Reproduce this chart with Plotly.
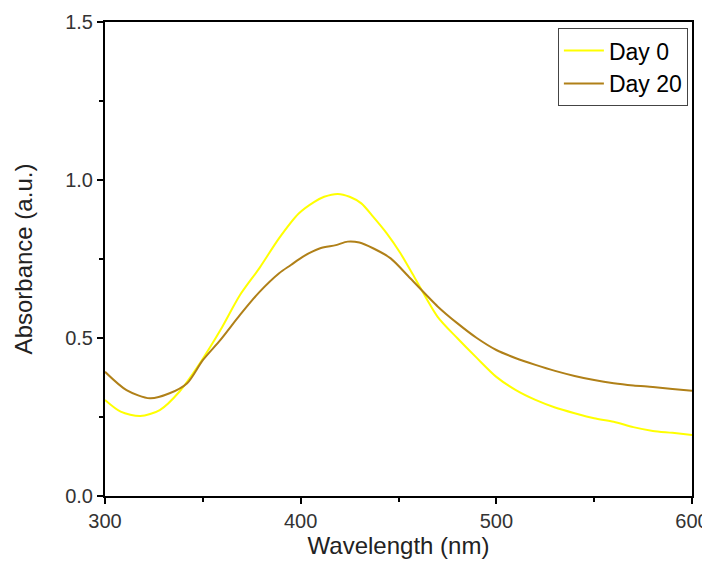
import plotly.graph_objects as go

# Day 0 spectrum
wl_day0 = [300, 308, 318, 328, 338, 349, 359, 369, 379, 389, 399, 407, 412, 419, 425, 431,
           437, 444, 451, 458, 470, 480, 490, 500, 510, 520, 530, 540, 550, 560, 570, 580, 590, 600]
day0 = [0.304, 0.267, 0.253, 0.272, 0.330, 0.425, 0.525, 0.636, 0.722, 0.816, 0.894, 0.931, 0.947, 0.956, 0.947, 0.926,
        0.884, 0.831, 0.768, 0.694, 0.567, 0.500, 0.437, 0.377, 0.335, 0.304, 0.280, 0.262, 0.246, 0.235, 0.218, 0.206, 0.200, 0.193]

# Day 20 spectrum
wl_day20 = [300, 311, 323, 333, 342, 350, 359, 369, 379, 389, 395, 401, 410, 418, 424, 430,
            437, 446, 456, 470, 480, 490, 500, 510, 520, 530, 540, 550, 560, 570, 580, 590, 600]
day20 = [0.393, 0.335, 0.309, 0.325, 0.357, 0.430, 0.494, 0.573, 0.646, 0.705, 0.731, 0.757, 0.784, 0.794, 0.805, 0.802,
         0.784, 0.752, 0.689, 0.600, 0.547, 0.500, 0.462, 0.436, 0.415, 0.396, 0.380, 0.367, 0.357, 0.350, 0.345, 0.339, 0.333]

font = "Liberation Sans, Arial, sans-serif"

fig = go.Figure()
fig.add_trace(go.Scatter(x=wl_day0, y=day0, mode="lines", name="Day 0",
                         line=dict(color="#FFFF00", width=2, shape="spline", smoothing=0.8)))
fig.add_trace(go.Scatter(x=wl_day20, y=day20, mode="lines", name="Day 20",
                         line=dict(color="#B08018", width=2, shape="spline", smoothing=0.8)))

axis_common = dict(showline=True, linecolor="black", linewidth=2, mirror=True,
                   showgrid=False, zeroline=False, ticks="outside", ticklen=6,
                   tickwidth=2, tickcolor="black", automargin=False,
                   ticklabeloverflow="allow",
                   tickfont=dict(family=font, size=20, color="#333333"))

# the page body adds an 8px margin, so the figure is a bit smaller than the window
fig.update_layout(
    width=702, height=551,
    margin=dict(l=97, r=18, t=14, b=63),
    paper_bgcolor="white", plot_bgcolor="white",
    font=dict(family=font, color="black"),
    xaxis=dict(range=[300, 600], dtick=100,
               minor=dict(ticks="outside", dtick=50, ticklen=4, tickwidth=2, tickcolor="black"),
               title=dict(text="Wavelength (nm)", font=dict(family=font, size=24, color="#222222"), standoff=10),
               **axis_common),
    yaxis=dict(range=[0, 1.5], dtick=0.5, tickformat=".1f",
               minor=dict(ticks="outside", dtick=0.25, ticklen=4, tickwidth=2, tickcolor="black"),
               title=dict(text="Absorbance (a.u.)", font=dict(family=font, size=24, color="#222222"), standoff=26),
               **axis_common),
    legend=dict(x=0.993, y=0.987, xanchor="right", yanchor="top",
                bordercolor="#444444", borderwidth=1, bgcolor="white",
                font=dict(family=font, size=23, color="black"),
                tracegroupgap=0, itemwidth=40),
    showlegend=True,
)

fig.write_html("out.html")
